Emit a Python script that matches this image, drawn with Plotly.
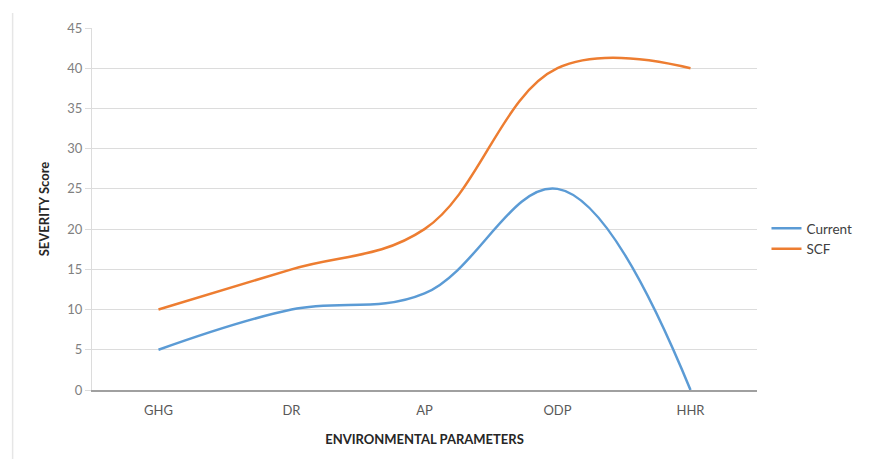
import plotly.graph_objects as go

# Environmental parameter categories and severity scores per scenario
categories = ["GHG", "DR", "AP", "ODP", "HHR"]
current = [5, 10, 12, 25, 0]
scf = [10, 15, 20, 40, 40]
y_ticks = [0, 5, 10, 15, 20, 25, 30, 35, 40, 45]

W, H = 872, 459
L, R, T, B = 91.5, 114.5, 28, 69

fig = go.Figure()
fig.add_trace(go.Scatter(
    x=categories, y=current, name="Current", mode="lines",
    line=dict(color="#5B9BD5", width=2.5, shape="spline", smoothing=1.1),
    cliponaxis=False,
))
fig.add_trace(go.Scatter(
    x=categories, y=scf, name="SCF", mode="lines",
    line=dict(color="#ED7D31", width=2.5, shape="spline", smoothing=1.1),
    cliponaxis=False,
))

pw = W - L - R
ph = H - T - B

fig.update_layout(
    width=W, height=H,
    margin=dict(l=L, r=R, t=T, b=B, pad=0),
    paper_bgcolor="white", plot_bgcolor="white",
    font=dict(family="Lato, 'Open Sans', sans-serif", size=13, color="#595959"),
    showlegend=True,
    legend=dict(
        x=(767 - L) / pw, y=(390 - 239) / ph, xanchor="left", yanchor="middle",
        font=dict(size=13.5, color="#404040"),
        itemwidth=30, tracegroupgap=0, bgcolor="rgba(0,0,0,0)",
    ),
    xaxis=dict(
        type="category", range=[-0.5, 4.5],
        showgrid=False, showline=True, linecolor="#A0A0A0", linewidth=1.5,
        ticks="", ticklabelstandoff=8, tickfont=dict(size=13, color="#595959"),
        title=dict(text="<b>ENVIRONMENTAL PARAMETERS</b>", standoff=18,
                   font=dict(size=13, color="#262626")),
        zeroline=False,
    ),
    yaxis=dict(
        range=[0, 45], tickvals=y_ticks,
        showgrid=True, gridcolor="#DCDCDC", gridwidth=1,
        showline=True, linecolor="#DCDCDC", linewidth=1,
        ticks="outside", ticklen=6, tickcolor="#DCDCDC",
        tickfont=dict(size=13, color="#808080"),
        title=dict(text="<b>SEVERITY Score</b>", standoff=14,
                   font=dict(size=13, color="#262626")),
        zeroline=False,
    ),
)

# Thin frame edge on the left of the chart area
fig.add_shape(
    type="line", xref="paper", yref="paper",
    x0=(12 - L) / pw, x1=(12 - L) / pw,
    y0=(H - B - 13) / ph, y1=-(B) / ph,
    line=dict(color="#E6E6E6", width=1.5), layer="below",
)

fig.write_html("out.html")
